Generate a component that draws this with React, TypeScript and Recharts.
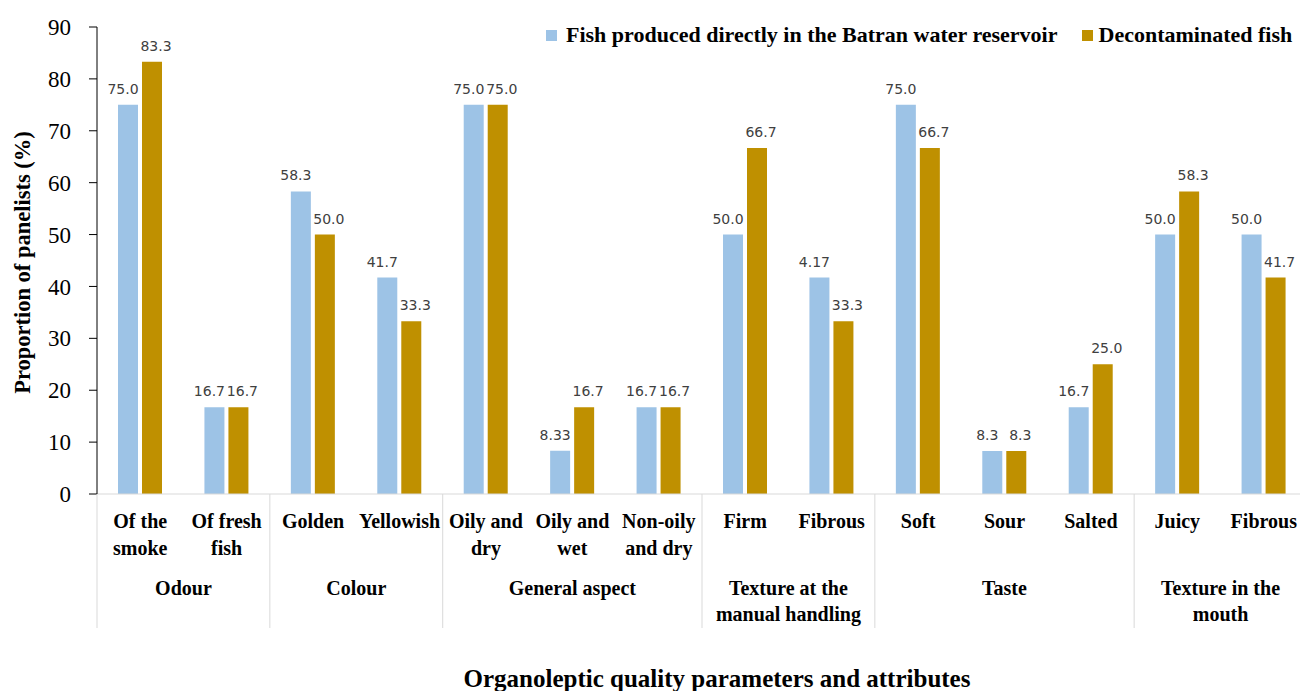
import React from 'react';
import { BarChart, Bar, XAxis, YAxis, LabelList } from 'recharts';

const categoryLabels = [
  'Of the\nsmoke', 'Of fresh\nfish', 'Golden', 'Yellowish', 'Oily and\ndry', 'Oily and\nwet',
  'Non-oily\nand dry', 'Firm', 'Fibrous', 'Soft', 'Sour', 'Salted', 'Juicy', 'Fibrous',
];
const groupNames = ['Odour', 'Colour', 'General aspect', 'Texture at the\nmanual handling', 'Taste', 'Texture in the\nmouth'];
const groupSizes = [2, 2, 3, 2, 3, 2];

const batranValues = [75.0, 16.7, 58.3, 41.7, 75.0, 8.33, 16.7, 50.0, 41.7, 75.0, 8.3, 16.7, 50.0, 50.0];
const decontValues = [83.3, 16.7, 50.0, 33.3, 75.0, 16.7, 16.7, 66.7, 33.3, 66.7, 8.3, 25.0, 58.3, 41.7];
const batranLabels = ['75.0', '16.7', '58.3', '41.7', '75.0', '8.33', '16.7', '50.0', '4.17', '75.0', '8.3', '16.7', '50.0', '50.0'];
const decontLabels = ['83.3', '16.7', '50.0', '33.3', '75.0', '16.7', '16.7', '66.7', '33.3', '66.7', '8.3', '25.0', '58.3', '41.7'];
const yTicks = [0, 10, 20, 30, 40, 50, 60, 70, 80, 90];

const seriesNames = ['Fish produced directly in the Batran water reservoir', 'Decontaminated fish'];
const BLUE = '#9DC3E6';
const GOLD = '#BF9000';

const data = categoryLabels.map((c, i) => ({
  key: 'c' + i,
  batran: batranValues[i],
  decont: decontValues[i],
  batranLabel: batranLabels[i],
  decontLabel: decontLabels[i],
}));

const CHART_W = 1320;
const CHART_H = 691;
const MARGIN = { top: 27, right: 13, bottom: 0, left: 37 };
const Y_W = 60;
const X_H = 197;
const PLOT_W = CHART_W - MARGIN.left - MARGIN.right - Y_W;
const BAND = PLOT_W / categoryLabels.length;
const AXIS_Y = CHART_H - MARGIN.bottom - X_H;

const SERIF = '"Liberation Serif", "Times New Roman", serif';
const SANS = '"DejaVu Sans", Verdana, sans-serif';

const groupStarts: number[] = [];
{
  let s = 0;
  for (const g of groupSizes) {
    groupStarts.push(s);
    s += g;
  }
}

const CategoryTick = (props: any) => {
  const { x, payload } = props;
  const i: number = payload && payload.index != null ? payload.index : props.index;
  const lines = categoryLabels[i].split('\n');
  const gi = groupStarts.indexOf(i);
  const els: any[] = [];
  lines.forEach((ln, k) => {
    els.push(
      <text key={'l' + k} x={x} y={AXIS_Y + 34 + k * 27} textAnchor="middle" fontFamily={SERIF} fontWeight="bold" fontSize={20} fill="#000">
        {ln}
      </text>
    );
  });
  if (gi >= 0) {
    const sepX = x - BAND / 2;
    els.push(<line key="sep" x1={sepX} x2={sepX} y1={AXIS_Y} y2={AXIS_Y + 134} stroke="#d9d9d9" strokeWidth={1} />);
    const cx = x + ((groupSizes[gi] - 1) * BAND) / 2;
    groupNames[gi].split('\n').forEach((ln, k) => {
      els.push(
        <text key={'g' + k} x={cx} y={AXIS_Y + 101 + k * 26} textAnchor="middle" fontFamily={SERIF} fontWeight="bold" fontSize={20} fill="#000">
          {ln}
        </text>
      );
    });
  }
  if (i === categoryLabels.length - 1) {
    const sepX = x + BAND / 2;
    els.push(<line key="sepEnd" x1={sepX} x2={sepX} y1={AXIS_Y} y2={AXIS_Y + 134} stroke="#d9d9d9" strokeWidth={1} />);
  }
  return <g>{els}</g>;
};

const makeLabel = (dx: number) => (p: any) => {
  const { x, y, width, value } = p;
  return (
    <text x={Number(x) + Number(width) / 2 + dx} y={Number(y) - 11} textAnchor="middle" fontFamily={SANS} fontSize={14} fill="#404040">
      {value}
    </text>
  );
};

export default function App() {
  return (
    <div style={{ position: 'absolute', left: 0, top: 0, width: 1300, height: 691, overflow: 'hidden', background: '#fff' }}>
      <BarChart width={CHART_W} height={CHART_H} data={data} margin={MARGIN} barSize={20} barGap={4}>
        <XAxis
          dataKey="key"
          height={X_H}
          interval={0}
          tickLine={false}
          axisLine={{ stroke: '#d9d9d9', strokeWidth: 1 }}
          tick={<CategoryTick />}
          label={{
            content: () => (
              <text x={717} y={687} textAnchor="middle" fontFamily={SERIF} fontWeight="bold" fontSize={25} fill="#000">
                Organoleptic quality parameters and attributes
              </text>
            ),
          }}
        />
        <YAxis
          width={Y_W}
          domain={[0, 90]}
          ticks={yTicks}
          interval={0}
          tickSize={8}
          tickMargin={18}
          axisLine={{ stroke: '#000', strokeWidth: 1 }}
          tickLine={{ stroke: '#000', strokeWidth: 1 }}
          tick={{ fontFamily: SERIF, fontSize: 23, fill: '#000' }}
          label={{
            content: (p: any) => {
              const vb = p.viewBox || {};
              const cx = 22;
              const cy = (vb.y || 27) + (vb.height || 467) / 2 + 2;
              return (
                <text x={cx} y={cy} transform={`rotate(-90 ${cx} ${cy})`} textAnchor="middle" dominantBaseline="central" fontFamily={SERIF} fontWeight="bold" fontSize={22.5} fill="#000">
                  Proportion of panelists (%)
                </text>
              );
            },
          }}
        />
        <Bar dataKey="batran" name={seriesNames[0]} fill={BLUE} isAnimationActive={false}>
          <LabelList dataKey="batranLabel" content={makeLabel(-5)} />
        </Bar>
        <Bar dataKey="decont" name={seriesNames[1]} fill={GOLD} isAnimationActive={false}>
          <LabelList dataKey="decontLabel" content={makeLabel(4)} />
        </Bar>
      </BarChart>
      <div style={{ position: 'absolute', top: 22, left: 546, display: 'flex', alignItems: 'center', fontFamily: SERIF, fontWeight: 'bold', fontSize: 22, color: '#000', whiteSpace: 'nowrap' }}>
        <span style={{ display: 'inline-block', width: 11, height: 11, background: BLUE, marginRight: 9 }} />
        <span>{seriesNames[0]}</span>
        <span style={{ display: 'inline-block', width: 11, height: 11, background: GOLD, marginLeft: 24, marginRight: 6 }} />
        <span>{seriesNames[1]}</span>
      </div>
    </div>
  );
}
